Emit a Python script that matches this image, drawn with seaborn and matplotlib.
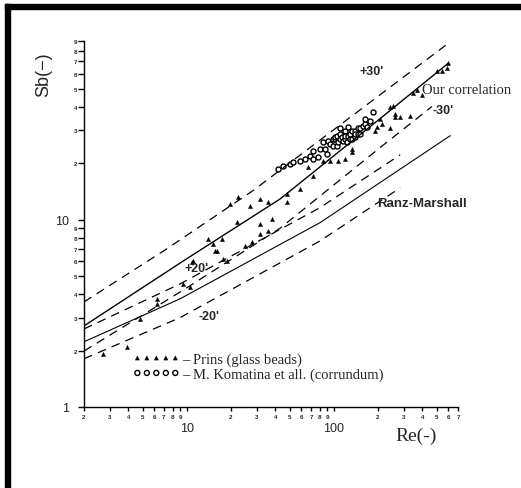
import matplotlib
matplotlib.use("Agg")
import matplotlib.pyplot as plt
from matplotlib.patches import Rectangle
from matplotlib.ticker import FixedLocator, FuncFormatter
import seaborn as sns

# ---- data ----------------------------------------------------------------
# Prins (glass beads)
prins_re = [2.69, 3.92, 4.81, 6.28, 6.28, 9.43, 10.5, 10.9, 11.0, 13.9, 15.1, 15.6,
            16.1, 17.4, 17.6, 18.8, 19.7, 22.0, 22.3, 24.9, 26.9, 27.8, 31.5, 31.5,
            31.5, 35.7, 35.7, 38.0, 48.1, 48.1, 58.9, 66.8, 72.3, 84.5, 94.3, 107,
            119, 133, 133, 191, 197, 207, 213, 242, 242, 253, 261, 261, 283, 330,
            346, 368, 398, 504, 545, 589, 599]
prins_sh = [1.92, 2.09, 2.95, 3.78, 3.55, 4.55, 4.38, 5.96, 6.04, 7.91, 7.44, 6.83,
            6.83, 7.91, 6.18, 6.04, 12.2, 9.76, 13.3, 7.26, 11.9, 7.63, 12.9, 9.52,
            8.42, 12.5, 8.73, 10.1, 13.8, 12.5, 14.6, 19.2, 17.2, 20.7, 20.7, 20.7,
            21.2, 24.0, 23.1, 29.6, 31.4, 34.7, 32.6, 30.7, 40.2, 40.7, 36.9, 35.5,
            35.5, 36.0, 47.2, 49.0, 46.1, 61.9, 62.6, 64.2, 68.3]

# M. Komatina et all. (corrundum)
kom_re = [41.8, 45.2, 50.4, 52.8, 58.9, 63.7, 68.9, 72.3, 72.3, 78.2, 80.6, 84.5,
          87.2, 90.0, 91.4, 94.3, 98.9, 98.9, 102, 102, 105, 105, 107, 110, 110,
          110, 114, 116, 119, 119, 119, 123, 125, 125, 129, 129, 133, 133, 140,
          140, 140, 146, 146, 151, 151, 158, 163, 163, 168, 177, 185]
kom_sh = [18.7, 19.4, 19.9, 20.4, 20.7, 21.2, 22.0, 23.4, 21.2, 21.7, 24.0, 26.1,
          24.0, 22.5, 26.4, 25.5, 27.1, 24.9, 27.1, 27.8, 28.1, 24.9, 26.1, 28.8,
          27.1, 30.7, 27.8, 26.4, 29.6, 27.1, 28.1, 26.1, 28.1, 31.4, 27.1, 28.8,
          29.6, 27.1, 29.9, 27.8, 28.8, 28.8, 30.7, 30.7, 28.8, 31.8, 32.6, 34.7,
          31.4, 33.8, 37.8]

# correlation curves
corr_re = [2, 9.28, 43.1, 207, 599]
corr_sh = [2.71, 5.96, 12.9, 34.7, 68.3]
plus30_re = [2, 7.34, 28.2, 140, 599]
plus30_sh = [3.64, 7.0, 14.3, 36.9, 87.3]
minus30_re = [2, 9.28, 43.1, 207, 465]
minus30_sh = [1.99, 4.17, 9.0, 24.3, 40.2]
rm_re = [2, 9.0, 80.6, 620]
rm_sh = [2.23, 3.78, 9.64, 28.1]
plus20_re = [2, 9.0, 80.6, 283]
plus20_sh = [2.61, 4.54, 11.6, 22.2]
minus20_re = [2, 9.0, 80.6, 283]
minus20_sh = [1.81, 3.0, 7.7, 14.8]

x_minor = [2, 3, 4, 5, 6, 7, 8, 9, 20, 30, 40, 50, 60, 70, 80, 90,
           200, 300, 400, 500, 600, 700]
y_minor = [2, 3, 4, 5, 6, 7, 8, 9, 20, 30, 40, 50, 60, 70, 80, 90]

# ---- figure --------------------------------------------------------------
sns.set_theme(style="white")
plt.rcParams['font.family'] = ['Liberation Sans', 'DejaVu Sans']

fig = plt.figure(figsize=(5.21, 4.89), dpi=100)
ax = fig.add_axes([84 / 521, 1 - 408 / 489, 374 / 521, 366 / 489])
ax.set_xscale("log")
ax.set_yscale("log")

dash = (0, (7, 5))
curves = [
    (corr_re, corr_sh, "-", 1.0),
    (plus30_re, plus30_sh, dash, 0.9),
    (minus30_re, minus30_sh, dash, 0.9),
    (rm_re, rm_sh, "-", 0.8),
    (plus20_re, plus20_sh, dash, 0.9),
    (minus20_re, minus20_sh, dash, 0.9),
]
for xs, ys, ls, lw in curves:
    sns.lineplot(x=xs, y=ys, sort=False, estimator=None, color="black",
                 linestyle=ls, linewidth=lw, ax=ax)

sns.scatterplot(x=prins_re, y=prins_sh, marker="^", s=9, color="black",
                edgecolor="black", linewidth=0.3, ax=ax,
                label="\u2013 Prins (glass beads)")
sns.scatterplot(x=kom_re, y=kom_sh, marker="o", s=13, facecolor="white",
                edgecolor="black", linewidth=1.0, ax=ax,
                label="\u2013 M. Komatina et all. (corrundum)")

ax.set_xlim(2, 700)
ax.set_ylim(1, 90)

for side in ("top", "right"):
    ax.spines[side].set_visible(False)
for side in ("left", "bottom"):
    ax.spines[side].set_color("black")
    ax.spines[side].set_linewidth(1.0)

ax.xaxis.set_major_locator(FixedLocator([10, 100]))
ax.yaxis.set_major_locator(FixedLocator([1, 10]))
ax.xaxis.set_minor_locator(FixedLocator(x_minor))
ax.yaxis.set_minor_locator(FixedLocator(y_minor))
ax.xaxis.set_major_formatter(FuncFormatter(lambda v, p: f"{v:g}"))
ax.yaxis.set_major_formatter(FuncFormatter(lambda v, p: f"{v:g}"))
digit = FuncFormatter(lambda v, p: f"{v:.0e}"[0])
ax.xaxis.set_minor_formatter(digit)
ax.yaxis.set_minor_formatter(digit)

ax.tick_params(axis="x", which="both", direction="out", length=3, width=1,
               color="black", bottom=True)
ax.tick_params(axis="y", which="both", direction="out", length=4, width=1,
               color="black", left=True)
ax.tick_params(axis="x", which="major", labelsize=9, pad=8)
ax.tick_params(axis="x", which="minor", labelsize=4.5, pad=2)
ax.tick_params(axis="y", which="major", labelsize=9, pad=7)
ax.tick_params(axis="y", which="minor", labelsize=4.5, pad=1)
for lab in ax.get_xticklabels(minor=True) + ax.get_yticklabels(minor=True):
    lab.set_fontweight("bold")

serif = ['Liberation Serif', 'DejaVu Serif']
ax.set_xlabel("Re(-)", family=serif, fontsize=14)
ax.xaxis.set_label_coords((416 - 84) / 374, (408 - 428) / 366)
ax.set_ylabel("Sb(\u2212)", fontsize=13)
ax.yaxis.set_label_coords((52 - 84) / 374, (408 - 75) / 366)

# curve labels
ax.text(182, 62.6, "+30'", fontsize=9, fontweight="bold", ha="center", va="center")
ax.text(398, 49.6, "Our correlation", family=serif, fontsize=10.5,
        ha="left", va="center")
ax.text(470, 38.3, "-30'", fontsize=9, fontweight="bold", ha="left", va="center")
ax.text(9.6, 5.5, "+20'", fontsize=9, fontweight="bold", ha="left", va="center")
ax.text(12.0, 3.05, "-20'", fontsize=9, fontweight="bold", ha="left", va="center")
ax.text(197, 12.3, "Ranz-Marshall", fontsize=9.5, fontweight="bold",
        ha="left", va="center")

leg = ax.legend(loc="center left", bbox_to_anchor=((133 - 84) / 374, (408 - 368) / 366),
                frameon=False, scatterpoints=5, scatteryoffsets=[0.5],
                handlelength=3.2, handletextpad=0.2, labelspacing=0.1,
                borderpad=0, borderaxespad=0,
                prop={"family": serif, "size": 10.5})

# page frame
fig.patches.append(Rectangle((5 / 521, 0), 5 / 521, 1 - 5 / 489,
                             transform=fig.transFigure, color="black", zorder=10))
fig.patches.append(Rectangle((5 / 521, 1 - 10 / 489), 1, 5 / 489,
                             transform=fig.transFigure, color="black", zorder=10))

fig.savefig("out.png", dpi=100)
